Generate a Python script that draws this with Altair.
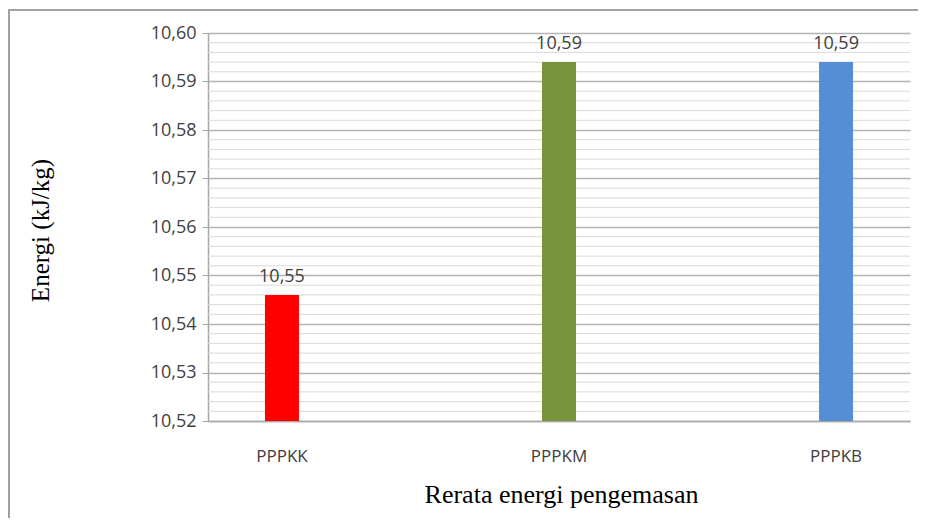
import altair as alt
import pandas as pd

categories = ["PPPKK", "PPPKM", "PPPKB"]
values = [10.546, 10.594, 10.594]
colors = ["#FF0000", "#77933C", "#558ED5"]
major_ticks = [10.52, 10.53, 10.54, 10.55, 10.56, 10.57, 10.58, 10.59, 10.60]
minor_ticks = [10.522, 10.524, 10.526, 10.528, 10.532, 10.534, 10.536, 10.538,
               10.542, 10.544, 10.546, 10.548, 10.552, 10.554, 10.556, 10.558,
               10.562, 10.564, 10.566, 10.568, 10.572, 10.574, 10.576, 10.578,
               10.582, 10.584, 10.586, 10.588, 10.592, 10.594, 10.596, 10.598]
axis_base = 10.52

df = pd.DataFrame({"cat": categories, "val": values, "color": colors})
minor_df = pd.DataFrame({"y": minor_ticks})

ydom = [10.52, 10.60]
label_expr = "replace(format(datum.value, '.2f'), '.', ',')"

xenc = alt.X(
    "cat:N",
    sort=categories,
    scale=alt.Scale(paddingInner=0.877, paddingOuter=0.2055),
    axis=alt.Axis(
        title="Rerata energi pengemasan",
        titleFont="Liberation Serif",
        titleFontSize=26,
        titleFontWeight="normal",
        titleColor="#000000",
        titleX=353,
        titleY=73,
        titleAlign="center",
        titleBaseline="middle",
        labelFont="Open Sans",
        labelFontSize=17,
        labelColor="#404040",
        labelAngle=0,
        labelPadding=27,
        ticks=False,
        domain=True,
        domainColor="#A6A6A6",
        domainWidth=1.5,
        grid=False,
    ),
)

yscale = alt.Scale(domain=ydom, nice=False, zero=False)

minor = alt.Chart(minor_df).mark_rule(color="#D9D9D9", strokeWidth=1).encode(
    y=alt.Y("y:Q", scale=yscale),
)

bars = alt.Chart(df).mark_bar(size=34).encode(
    x=xenc,
    y=alt.Y(
        "val:Q",
        scale=yscale,
        axis=alt.Axis(
            values=major_ticks,
            labelExpr=label_expr,
            title="Energi (kJ/kg)",
            titleFont="Liberation Serif",
            titleFontSize=25,
            titleFontWeight="normal",
            titleColor="#000000",
            titleX=-168,
            titleY=197,
            titleAlign="center",
            titleBaseline="middle",
            labelFont="Open Sans",
            labelFontSize=18,
            labelColor="#404040",
            labelPadding=6,
            tickSize=6,
            tickColor="#A6A6A6",
            domainColor="#A6A6A6",
            domainWidth=1.5,
            grid=True,
            gridColor="#B3B3B3",
            gridWidth=1.5,
        ),
    ),
    y2=alt.datum(axis_base),
    color=alt.Color("color:N", scale=None, legend=None),
)

text = alt.Chart(df).transform_calculate(
    lab="replace(format(datum.val, '.2f'), '.', ',')"
).mark_text(
    font="Open Sans", fontSize=18, color="#404040", baseline="bottom", dy=-9
).encode(
    x=alt.X("cat:N", sort=categories),
    y=alt.Y("val:Q"),
    text="lab:N",
)

frame_left = alt.Chart(df).mark_rule(color="#A0A0A0", strokeWidth=2).encode(
    x=alt.value(-199), y=alt.value(-23), y2=alt.value(500)
)
frame_top = alt.Chart(df).mark_rule(color="#A0A0A0", strokeWidth=1.5).encode(
    x=alt.value(-200), x2=alt.value(720), y=alt.value(-23)
)

chart = alt.layer(minor, bars, text, frame_left, frame_top).properties(
    width=702,
    height=388,
    autosize=alt.AutoSizeParams(type="none"),
    padding={"left": 200, "top": 25, "right": 8, "bottom": 97},
    background="#FFFFFF",
).configure_view(stroke=None)

chart.save("out.html", embed_options={"renderer": "svg", "actions": False})
